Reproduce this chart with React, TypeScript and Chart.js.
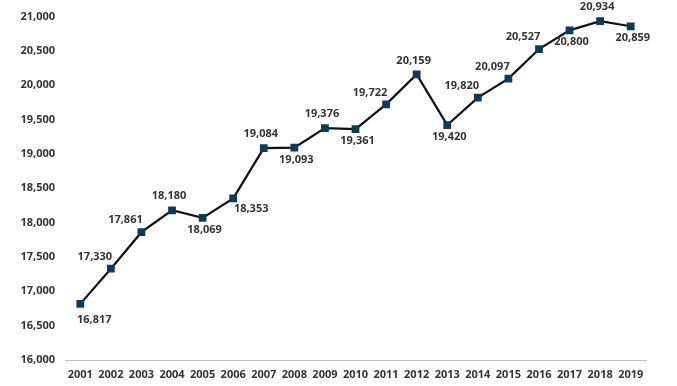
import React, { useEffect, useRef } from "react";
import { Chart, registerables } from "chart.js";

Chart.register(...registerables);

const years = ["2001","2002","2003","2004","2005","2006","2007","2008","2009","2010","2011","2012","2013","2014","2015","2016","2017","2018","2019"];
const values = [16817,17330,17861,18180,18069,18353,19084,19093,19376,19361,19722,20159,19420,19820,20097,20527,20800,20934,20859];
// label placement per point: a = above, b = below, al = above-left, br = below-right, bb = below-right low
const placement = ["bb","al","al","a","b","br","a","b","a","b","al","a","b","al","al","al","b","a","b"];

const FONT = "'Open Sans', sans-serif";

const labelPlugin = {
  id: "valueLabels",
  afterDatasetsDraw(chart: any) {
    const ctx = chart.ctx;
    const meta = chart.getDatasetMeta(0);
    ctx.save();
    ctx.font = `bold 11px ${FONT}`;
    ctx.fillStyle = "#333333";
    ctx.textBaseline = "middle";
    meta.data.forEach((pt: any, i: number) => {
      const txt = values[i].toLocaleString("en-US");
      const p = placement[i];
      let x = pt.x, y = pt.y;
      ctx.textAlign = "center";
      if (p === "a") { x -= 3; y -= 14; }
      else if (p === "b") { x += 2; y += 12; }
      else if (p === "bb") { x += 14; y += 16; }
      else if (p === "al") { x -= 16; y -= 12; }
      else if (p === "br") { x += 18; y += 10; }
      ctx.fillText(txt, x, y);
    });
    ctx.restore();
  },
};

export default function App() {
  const ref = useRef<HTMLCanvasElement>(null);
  useEffect(() => {
    const chart = new Chart(ref.current!, {
      type: "line",
      data: {
        labels: years,
        datasets: [{
          data: values,
          borderColor: "#111111",
          borderWidth: 2.2,
          pointStyle: "rect",
          pointRadius: 5.5,
          pointBackgroundColor: "#0f3b55",
          pointBorderColor: "#0f3b55",
          pointBorderWidth: 0,
          tension: 0,
        }],
      },
      options: {
        animation: false,
        responsive: true,
        maintainAspectRatio: false,
        layout: { padding: { left: 8, right: 31, top: 14, bottom: 0 } },
        plugins: { legend: { display: false }, tooltip: { enabled: false } },
        scales: {
          x: {
            offset: true,
            grid: { display: false, drawTicks: false },
            border: { display: true, color: "#c0c0c0", width: 1 },
            afterFit(scale: any) { scale.height = 26; },
            ticks: { color: "#333333", font: { family: FONT, size: 11, weight: "bold" }, padding: 8, maxRotation: 0, autoSkip: false },
          },
          y: {
            min: 16000,
            max: 21000,
            grid: { display: false, drawTicks: false },
            border: { display: false },
            afterFit(scale: any) { scale.width = 57; },
            ticks: {
              stepSize: 500,
              color: "#333333",
              padding: 10,
              font: { family: FONT, size: 11, weight: "bold" },
              callback: (v: any) => Number(v).toLocaleString("en-US"),
            },
          },
        },
      },
      plugins: [labelPlugin],
    });
    return () => chart.destroy();
  }, []);
  return (
    <div style={{ position: "fixed", left: 0, top: 0, width: 677, height: 386, background: "#fff" }}>
      <canvas ref={ref} />
    </div>
  );
}
